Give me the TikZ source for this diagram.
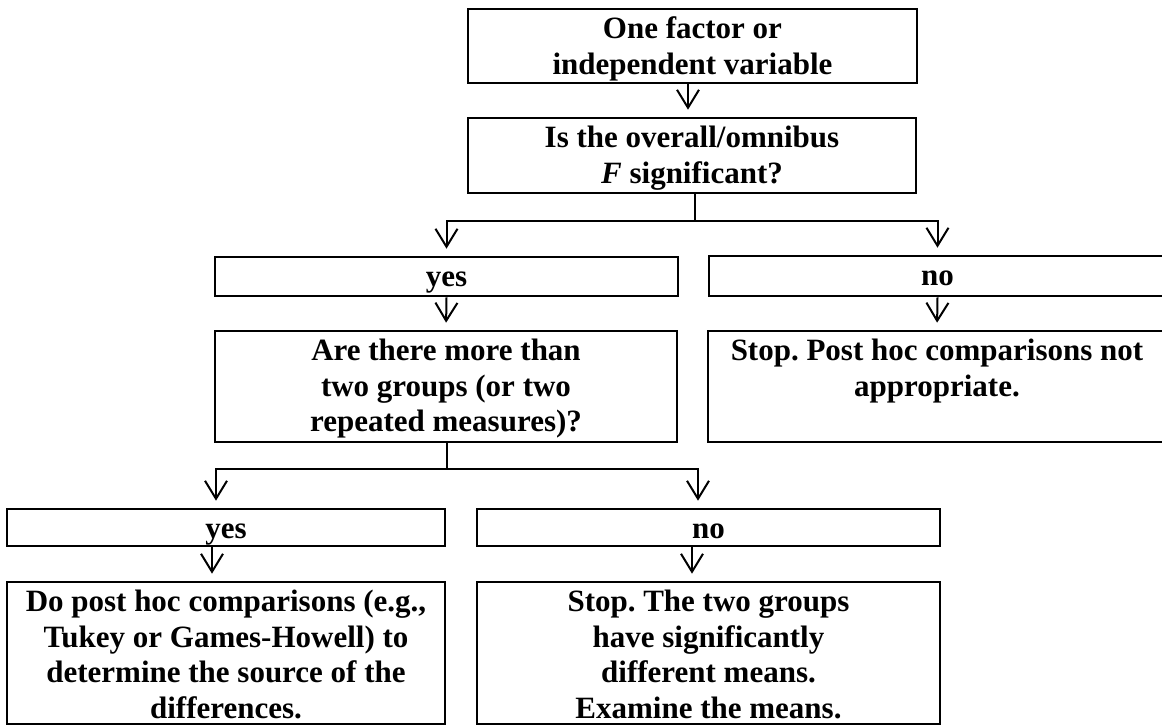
\documentclass[tikz,border=0pt]{standalone}
\usepackage{fontspec}
\setmainfont{Liberation Serif}
\usetikzlibrary{arrows.meta}
\frenchspacing

% box content: #1 height and #2 width in px (1px = 0.5pt), first baseline 15pt below the top
\newcommand\bx[3]{\parbox[c][\dimexpr#1pt/2\relax][t]{\dimexpr#2pt/2\relax}{\centering\rule{0pt}{15pt}#3\par}}

\begin{document}
\begin{tikzpicture}[x=0.5pt,y=-0.5pt,
  box/.style={draw, rectangle, line width=1.3pt, inner sep=0pt,
    font=\fontsize{15.5}{17.75}\selectfont\bfseries},
  conn/.style={line width=1pt},
  arr/.style={conn, -{Straight Barb[length=9pt,width=11pt,line width=1pt]}, shorten >=3.5pt}]
\useasboundingbox (0,0) rectangle (1162,726);

% question boxes down the middle
\node[box] (b1) at (692.5,46) {\bx{74}{449}{One factor or\\independent variable}};
\node[box] (b2) at (692,155.5) {\bx{75}{448}{Is the overall/omnibus\\\textit{F} significant?}};

% first branch
\node[box] (yes1) at (446.5,276.5) {\bx{39}{463}{yes}};
\node[box] (no1) at (937.5,276) {\bx{40}{457}{no}};
\node[box] (q) at (446,386.5) {\bx{111}{462}{Are there more than\\two groups (or two\\repeated measures)?}};
\node[box] (stop1) at (937,386.5) {\bx{111}{458}{Stop. Post hoc comparisons not\\appropriate.}};

% second branch
\node[box] (yes2) at (226,527.5) {\bx{37}{438}{yes}};
\node[box] (no2) at (708.5,527.5) {\bx{37}{463}{no}};
\node[box] (do) at (226,653) {\bx{142}{438}{Do post hoc comparisons (e.g.,\\Tukey or Games-Howell) to\\determine the source of the\\differences.}};
\node[box] (stop2) at (708.5,653) {\bx{142}{463}{Stop. The two groups\\have significantly\\different means.\\Examine the means.}};

% connectors
\draw[arr] ([xshift=-2.25pt]b1.south) -- ([xshift=-2.25pt]b1.south |- b2.north);

\coordinate (j1) at (695,221);
\draw[conn] (b2.south -| j1) -- (j1);
\draw[arr] (j1) -| (yes1.north);
\draw[arr] (j1) -| (no1.north);

\draw[arr] (yes1.south) -- (q.north);
\draw[arr] (no1.south) -- (stop1.north);

\coordinate (j2) at (447,469);
\draw[conn] (q.south -| j2) -- (j2);
\draw[arr] (j2) -| ([xshift=-5pt]yes2.north);
\draw[arr] (j2) -| ([xshift=-5.25pt]no2.north);

\draw[arr] ([xshift=-7pt]yes2.south) -- ([xshift=-7pt]do.north);
\draw[arr] ([xshift=-8.25pt]no2.south) -- ([xshift=-8.25pt]stop2.north);
\end{tikzpicture}
\end{document}
